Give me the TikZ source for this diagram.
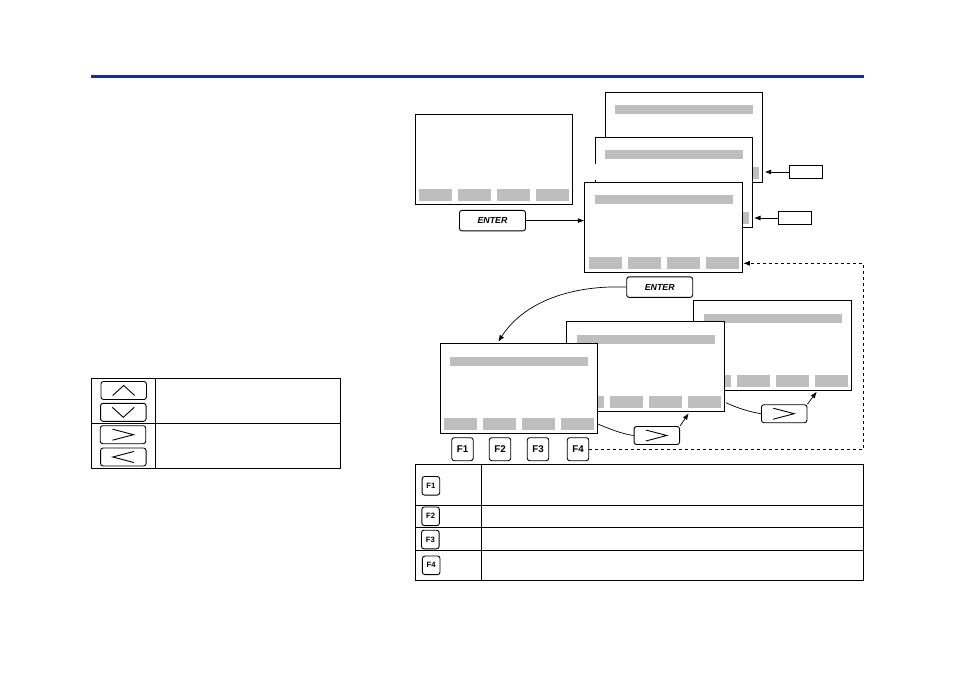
\documentclass[tikz,border=0pt]{standalone}
\usepackage{fontspec}
\setmainfont{Liberation Sans}
\usetikzlibrary{arrows.meta}
\definecolor{rulecol}{HTML}{123088}
\definecolor{softcol}{HTML}{BEBEBE}
\tikzset{
    lcd/.style={draw,fill=white,line width=1pt,inner sep=0pt,
        minimum width=157.4pt,minimum height=90.4pt},
    softkey/.style={fill=softcol,inner sep=0pt,minimum width=33pt,minimum height=12pt},
    titlebar/.style={fill=softcol,inner sep=0pt,minimum width=138pt,minimum height=9pt},
    keycap/.style={draw,rounded corners=2.5pt,line width=0.9pt,fill=white,inner sep=0pt},
    enterkey/.style={keycap,minimum width=66pt,minimum height=20.5pt,
        font=\fontsize{8.8}{10}\selectfont\bfseries\itshape},
    arrowkey/.style={keycap,minimum width=45.5pt,minimum height=18pt},
    fkey/.style={keycap,minimum width=21.5pt,minimum height=23pt,
        font=\fontsize{9.8}{10}\selectfont\bfseries},
    fsmall/.style={keycap,minimum width=17.6pt,minimum height=18.6pt,
        font=\fontsize{7.7}{9}\selectfont\bfseries},
    tagbox/.style={draw,line width=0.9pt,inner sep=0pt,minimum width=33.4pt,minimum height=13.4pt},
    wire/.style={line width=0.7pt},
    conn/.style={wire,-{Latex[length=6.5pt,width=5pt]}},
    chevline/.style={line width=0.9pt},
    gridline/.style={line width=0.9pt},
}
% one display: frame and the four soft keys
\newcommand{\lcdpanel}[3]{
    \node[lcd] (#1) at (#2,#3) {};
    \foreach \dx/\nm in {20.8/a,59.8/b,98.8/c,137.8/d}
        \node[softkey] (#1\nm) at ([xshift=\dx pt,yshift=10.6pt]#1.south west) {};
}
% the same with its title bar
\newcommand{\lcdtitled}[3]{
    \lcdpanel{#1}{#2}{#3}
    \node[titlebar] (#1bar) at ([xshift=79.4pt,yshift=73.2pt]#1.south west) {};
}
\newcommand{\chevron}[5]{
    \draw[chevline] ([xshift=#2pt,yshift=#3pt]#1.center)
        -- ([xshift=#4pt,yshift=#5pt]#1.center)
        -- ([xshift=#2pt,yshift=-#3pt]#1.center);
}
\newcommand{\chevronv}[5]{
    \draw[chevline] ([xshift=#2pt,yshift=#3pt]#1.center)
        -- ([xshift=#4pt,yshift=#5pt]#1.center)
        -- ([xshift=-#2pt,yshift=#3pt]#1.center);
}
\begin{document}
\begin{tikzpicture}[x=1pt,y=-1pt]
    \useasboundingbox (0,0) rectangle (954,674);
    \fill[rulecol] (91,74.7) rectangle (863.7,77.7);

    % upper displays
    \lcdpanel{scrA}{494.1}{159.5}
    \lcdtitled{scrB}{684}{137.5}
    \lcdtitled{scrC}{674}{182.5}
    \fill[white] (594,164) rectangle (597,180);
    \lcdtitled{scrD}{663.5}{227.5}

    % lower displays
    \lcdtitled{scrG}{772.5}{345.5}
    \lcdtitled{scrF}{645.5}{366.5}
    \lcdtitled{scrE}{519}{388.5}

    \node[enterkey] (enterA) at (492.5,220.6) {ENTER};
    \node[enterkey] (enterB) at (659.7,287.1) {ENTER};
    \node[arrowkey] (nextA) at (656.8,435.5) {};
    \node[arrowkey] (nextB) at (784.2,413.7) {};
    \chevron{nextA}{-11}{5.5}{10}{0}
    \chevron{nextB}{-11}{5.5}{10}{0}

    \node[fkey] (fA) at (462.5,449.2) {F1};
    \node[fkey] (fB) at (500,449.2) {F2};
    \node[fkey] (fC) at (538,449.2) {F3};
    \node[fkey] (fD) at (578,449.2) {F4};

    \node[tagbox] (tagA) at (806,172) {};
    \node[tagbox] (tagB) at (795,218) {};

    \coordinate (tipA) at (764.7,172);
    \coordinate (tipB) at (754,218);
    \coordinate (tipC) at (498.3,341.7);
    \coordinate (tipD) at (688.7,413.3);
    \coordinate (tipE) at (816.7,391.7);
    \coordinate (tipF) at (743.3,263.3);
    \coordinate (dashA) at (863.5,263.3);

    \draw[conn] (tagA.west) -- (tipA);
    \draw[conn] (tagB.west) -- (tipB);
    \draw[conn] (enterA.east) -- (enterA.east -| scrD.west);
    \draw[conn] (enterB.west) .. controls (575,285) and (525,300) .. (tipC);
    \draw[wire] (597.7,424) .. controls (610,429) and (622,434) .. (nextA.west);
    \draw[wire] (726,402.7) .. controls (737,408) and (750,412) .. (nextB.west);
    \draw[conn] (nextA.north east) -- (tipD);
    \draw[conn] (nextB.north east) -- (tipE);
    \draw[conn,dashed] (fD.east) -| (dashA) -- (tipF);

    % table below the displays
    \draw[gridline] (415.5,464.3) rectangle (863.7,580.3);
    \draw[gridline] (481.3,464.3) -- (481.3,580.3);
    \foreach \ypos in {505.3,527.3,550.3}
        \draw[gridline] (415.5,\ypos) -- (863.7,\ypos);
    \node[fsmall] (fsA) at (430.9,485.8) {F1};
    \node[fsmall] (fsB) at (430.6,516.3) {F2};
    \node[fsmall] (fsC) at (430.3,539.5) {F3};
    \node[fsmall] (fsD) at (431.2,565.3) {F4};

    % table on the left
    \draw[gridline] (91.3,378.3) rectangle (340,468.3);
    \draw[gridline] (155.7,378.3) -- (155.7,468.3);
    \draw[gridline] (91.3,423.3) -- (340,423.3);
    \node[arrowkey] (keyUp) at (123.7,390.5) {};
    \node[arrowkey] (keyDown) at (123.3,412.3) {};
    \node[arrowkey] (keyRight) at (123,434.7) {};
    \node[arrowkey] (keyLeft) at (123.3,457) {};
    \chevronv{keyUp}{-11}{-5}{0}{5}
    \chevronv{keyDown}{-11}{5}{0}{-5}
    \chevron{keyRight}{-10.5}{5.5}{10.5}{0}
    \chevron{keyLeft}{10.5}{5.5}{-10.5}{0}
\end{tikzpicture}
\end{document}
